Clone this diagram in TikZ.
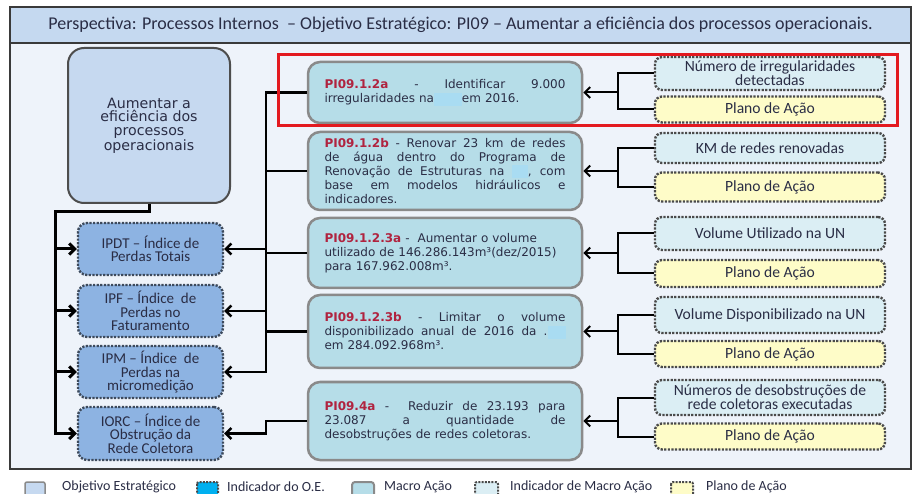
\documentclass[tikz,border=0pt]{standalone}
\usepackage{fontspec}
\setmainfont{DejaVu Sans}
\newfontfamily\calfont{Carlito}
\newfontfamily\verfont{DejaVu Sans}
\usetikzlibrary{arrows.meta}
\definecolor{framebg}{HTML}{EEF3FA}
\definecolor{headfill}{HTML}{C5D9F0}
\definecolor{headline}{HTML}{3A3A3A}
\definecolor{bigfill}{HTML}{C6D9F0}
\definecolor{bigline}{HTML}{4D4D4D}
\definecolor{oefill}{HTML}{8DB3E2}
\definecolor{oeline}{HTML}{3D4A5C}
\definecolor{macrofill}{HTML}{B6DDE8}
\definecolor{macroline}{HTML}{8A8A8A}
\definecolor{indfill}{HTML}{DBEEF4}
\definecolor{planofill}{HTML}{FEFCC8}
\definecolor{dotline}{HTML}{4A4A4A}
\definecolor{redbox}{HTML}{E3191F}
\definecolor{idred}{HTML}{B0233F}
\definecolor{txt}{HTML}{2A2D45}
\definecolor{blobc}{HTML}{A9DCF2}
\definecolor{ioe}{HTML}{00B0F0}
\newcommand\idtag[1]{{\bfseries\color{idred}#1}}
\newcommand\jline[1]{\makebox[241pt][s]{\spaceskip=0.33em plus 1fil minus 0.08em\xspaceskip=\spaceskip #1}}
\newcommand\blob[1]{{\color{blobc}\rule[-3pt]{#1pt}{13pt}}}
\begin{document}
\begin{tikzpicture}[x=1pt,y=-1pt,
  bigbox/.style={draw=bigline, line width=2pt, fill=bigfill, rounded corners=16pt, align=center, inner sep=0pt, text=txt, font=\verfont\fontsize{14.2}{13.6}\selectfont},
  oebox/.style={draw=oeline, line width=2.4pt, dash pattern=on 2.2pt off 1.4pt, fill=oefill, rounded corners=9pt, align=center, inner sep=0pt, minimum width=145pt, text=txt, font=\calfont\fontsize{15}{13.5}\selectfont},
  macro/.style={draw=macroline, line width=2.5pt, fill=macrofill, rounded corners=12pt, inner xsep=16.5pt, inner ysep=0pt, text width=241pt, align=left, text=txt, font=\verfont\fontsize{12}{14}\selectfont},
  indbox/.style={draw=dotline, line width=2.4pt, dash pattern=on 2.2pt off 1.4pt, fill=indfill, rounded corners=7pt, align=center, inner sep=0pt, minimum width=230pt, text=txt, font=\calfont\fontsize{15.6}{14}\selectfont},
  planobox/.style={indbox, fill=planofill},
  tree/.style={line width=3pt, black},
  rtree/.style={line width=2.5pt, black},
  link/.style={line width=2pt, black},
  arr/.style={-{Straight Barb[length=5.5pt,width=11pt]}},
  legtext/.style={anchor=west, inner sep=0pt, text=txt, font=\calfont\fontsize{14}{14}\selectfont}
]
\clip (0,0) rectangle (916,494);
\useasboundingbox (0,0) rectangle (916,494);
\fill[white] (0,0) rectangle (916,494);
% frame and header
\draw[headline, line width=2pt, fill=framebg] (10,7) rectangle (911,469);
\node[draw=headline, line width=2pt, fill=headfill, minimum width=901pt, minimum height=36pt, inner sep=0pt, text=txt, font=\calfont\fontsize{18}{18}\selectfont] (head) at (460.5,25) {Perspectiva: Processos Internos \ – Objetivo Estratégico: PI09 – Aumentar a eficiência dos processos operacionais.};

% objective
\node[bigbox, minimum width=162pt, minimum height=155pt] (obj) at (149,125.5) {Aumentar a\\eficiência dos\\processos\\operacionais};

% OE indicators
\node[oebox, minimum height=52pt] (i1) at (150.5,249) {IPDT – Índice de\\Perdas Totais};
\node[oebox, minimum height=52pt] (i2) at (150.5,311) {IPF – Índice \ de\\Perdas no\\Faturamento};
\node[oebox, minimum height=52pt] (i3) at (150.5,372) {IPM – Índice \ de\\Perdas na\\micromedição};
\node[oebox, minimum height=53pt] (i4) at (150.5,433.5) {IORC – Índice de\\Obstrução da\\Rede Coletora};

% macro actions
\node[macro, minimum height=61pt] (m1) at (445,92.5) {\jline{\idtag{PI09.1.2a} - Identificar 9.000}\\irregularidades na\blob{28}em 2016.};
\node[macro, minimum height=78pt] (m2) at (445,171) {\jline{\idtag{PI09.1.2b} - Renovar 23 km de redes}\\\jline{de água dentro do Programa de}\\\jline{Renovação de Estruturas na \blob{16}, com}\\\jline{base em modelos hidráulicos e}\\indicadores.};
\node[macro, minimum height=70pt] (m3) at (445,253) {\idtag{PI09.1.2.3a} - \ Aumentar o volume\\utilizado de 146.286.143m³(dez/2015)\\para 167.962.008m³.};
\node[macro, minimum height=73pt] (m4) at (445,331.5) {\jline{\idtag{PI09.1.2.3b} - Limitar o volume}\\\jline{disponibilizado anual de 2016 da .\blob{18}}\\em 284.092.968m³.};
\node[macro, minimum height=78pt] (m5) at (445,421) {\jline{\idtag{PI09.4a} - \ Reduzir de 23.193 para}\\\jline{23.087 a quantidade de}\\desobstruções de redes coletoras.};

% macro indicators and action plans
\node[indbox, minimum height=33pt] (r1a) at (770,73.5) {Número de irregularidades\\detectadas};
\node[planobox, minimum height=26pt] (r1b) at (770,109.5) {Plano de Ação};
\node[indbox, minimum height=30pt] (r2a) at (770,148) {KM de redes renovadas};
\node[planobox, minimum height=29pt] (r2b) at (770,187) {Plano de Ação};
\node[indbox, minimum height=33pt] (r3a) at (770,233.5) {Volume Utilizado na UN};
\node[planobox, minimum height=27pt] (r3b) at (770,273.5) {Plano de Ação};
\node[indbox, minimum height=36pt] (r4a) at (770,315) {Volume Disponibilizado na UN};
\node[planobox, minimum height=26pt] (r4b) at (770,354) {Plano de Ação};
\node[indbox, minimum height=35pt] (r5a) at (770,397.5) {Números de desobstruções de\\rede coletoras executadas};
\node[planobox, minimum height=26pt] (r5b) at (770,436.5) {Plano de Ação};

% left tree
\coordinate (lt) at (55,212);
\draw[tree, arr] (obj.south) |- (lt) |- (i4.west);
\draw[tree, arr] (lt |- i1.west) -- (i1.west);
\draw[tree, arr] (lt |- i2.west) -- (i2.west);
\draw[tree, arr] (lt |- i3.west) -- (i3.west);

% right tree
\coordinate (rt) at (266,0);
\draw[rtree, arr] (m1.west) -| (rt |- i3.east) -- (i3.east);
\draw[rtree] (m2.west) -- (rt |- m2.west);
\draw[rtree] (m3.west) -- (rt |- m3.west);
\draw[rtree] (m4.west) -- (rt |- m4.west);
\draw[rtree, arr] (rt |- i1.east) -- (i1.east);
\draw[rtree, arr] (rt |- i2.east) -- (i2.east);
\draw[rtree, arr] (m5.west) -- (rt |- m5.west) |- (i4.east);

% right brackets
\coordinate (bx) at (618,0);
\foreach \k in {1,...,5}{
  \draw[link] (r\k a.west) -| (bx |- r\k b.west) -- (r\k b.west);
  \draw[link, arr] (bx |- m\k.east) -- (m\k.east);
}

% highlight
\draw[redbox, line width=3pt] (278,55) rectangle (897,126);

% legend
\draw[macroline, line width=1.5pt, fill=bigfill, rounded corners=2pt] (25,482) rectangle (45,502);
\node[legtext] (l1) at (62,486.5) {Objetivo Estratégico};
\draw[dotline, line width=2pt, dash pattern=on 2pt off 1.3pt, fill=ioe, rounded corners=2pt] (197,482) rectangle (218,502);
\node[legtext] (l2) at (227,487) {Indicador do O.E.};
\draw[macroline, line width=2pt, fill=macrofill, rounded corners=3pt] (352,482) rectangle (374,502);
\node[legtext] (l3) at (384,487) {Macro Ação};
\draw[dotline, line width=2pt, dash pattern=on 2pt off 1.3pt, fill=indfill, rounded corners=2pt] (475,482) rectangle (498,502);
\node[legtext] (l4) at (510,486.5) {Indicador de Macro Ação};
\draw[dotline, line width=2pt, dash pattern=on 2pt off 1.3pt, fill=planofill, rounded corners=2pt] (671,482) rectangle (693,502);
\node[legtext] (l5) at (706,486.5) {Plano de Ação};
\end{tikzpicture}
\end{document}
